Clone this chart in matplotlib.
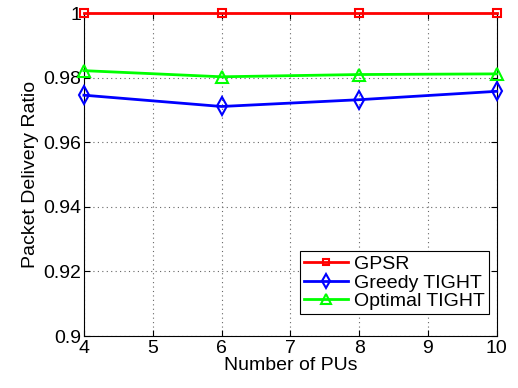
import matplotlib
matplotlib.use('Agg')
import matplotlib.pyplot as plt

plt.rcParams['font.family'] = ['Liberation Sans', 'DejaVu Sans']

num_pus = [4, 6, 8, 10]
gpsr = [1.0, 1.0, 1.0, 1.0]
greedy_tight = [0.9746, 0.9711, 0.9732, 0.9758]
optimal_tight = [0.9822, 0.9803, 0.9810, 0.9812]

fig = plt.figure(figsize=(5.18, 3.88), dpi=100)
ax = fig.add_axes([0.162, 0.134, 0.797, 0.832])

ax.plot(num_pus, gpsr, color='red', marker='s', markersize=6, markerfacecolor='none',
        markeredgewidth=1.5, linewidth=2, label='GPSR', clip_on=False, zorder=5)
ax.plot(num_pus, greedy_tight, color='blue', marker='d', markersize=9, markerfacecolor='none',
        markeredgewidth=1.5, linewidth=2, label='Greedy TIGHT', clip_on=False, zorder=5)
ax.plot(num_pus, optimal_tight, color='#00ff00', marker='^', markersize=9, markerfacecolor='none',
        markeredgewidth=1.5, linewidth=2, label='Optimal TIGHT', clip_on=False, zorder=5)

ax.set_xlim(4, 10)
ax.set_ylim(0.9, 1.0)
ax.set_xticks(range(4, 11))
ax.set_yticks([0.9, 0.92, 0.94, 0.96, 0.98, 1.0])
ax.set_yticklabels(['0.9', '0.92', '0.94', '0.96', '0.98', '1'])
ax.tick_params(direction='in', labelsize=14, length=4, top=True, right=True, pad=2)
ax.tick_params(axis='x', pad=3)
ax.grid(True, linestyle=(0, (1, 3)), color='#666666', linewidth=0.8)
ax.set_xlabel('Number of PUs', fontsize=14, labelpad=0)
ax.set_ylabel('Packet Delivery Ratio', fontsize=14, labelpad=3)

leg = ax.legend(loc='lower right', fontsize=14, fancybox=False, framealpha=1,
                edgecolor='black', borderpad=0.2, labelspacing=0.05, handlelength=2.3,
                handletextpad=0.3, borderaxespad=0.3, markerscale=0.8,
                bbox_to_anchor=(0.995, 0.05))
leg.get_frame().set_linewidth(0.8)

fig.savefig('out.png', dpi=100)
